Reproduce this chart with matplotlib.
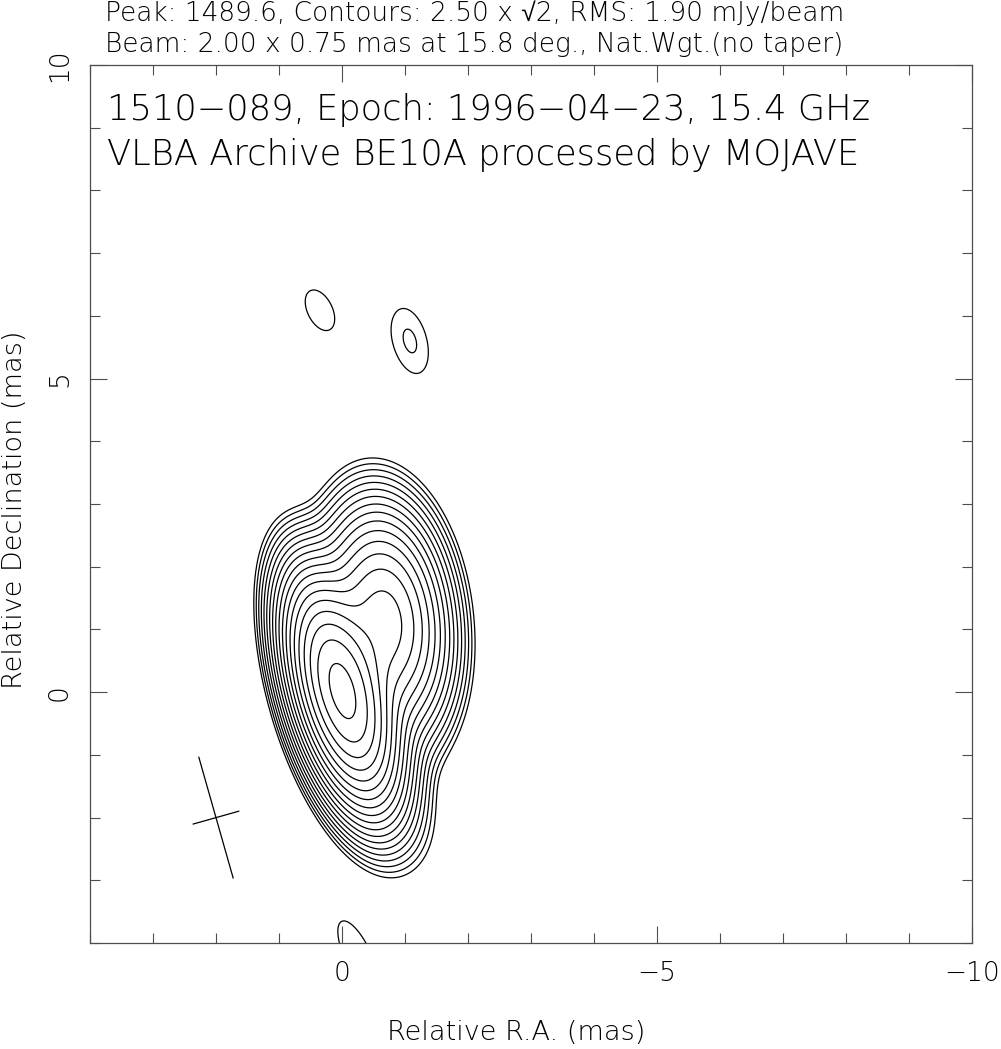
import numpy as np
import matplotlib.pyplot as plt

plt.rcParams['font.family'] = ['DejaVu Sans', 'Liberation Sans', 'Noto Sans']
plt.rcParams['font.weight'] = 'light'
plt.rcParams['axes.labelweight'] = 'light'

# -----------------------------
# Map parameters
# -----------------------------
peak = 1489.6
base = 2.50
rms = 1.90

beam_maj = 2.00
beam_min = 0.75
beam_pa = 15.8
beam_pos = (2.0, -2.0)

# image-plane gaussian components (already convolved)
comp_x = [0.0, -0.68, -0.9, 0.35, -1.08, -0.25]
comp_y = [0.0, 1.12, -1.8, 6.09, 5.6, -4.2]
comp_peak = [1440.0, 380.0, 4.0, 2.9, 3.72, 3.7]
comp_maj = [1.98, 1.95, 1.6, 1.5, 1.4, 1.6]
comp_min = [0.78, 1.05, 0.9, 0.85, 0.7, 0.55]
comp_pa = [15.8, 6.0, 15.0, 26.0, 15.0, 25.0]


def gauss2d(X, Y, x0, y0, amp, fmaj, fmin, pa):
    sx = fmin / 2.3548
    sy = fmaj / 2.3548
    t = np.deg2rad(pa)
    dx = X - x0
    dy = Y - y0
    # major axis along pa (north through east)
    u = dx * np.cos(t) - dy * np.sin(t)
    v = dx * np.sin(t) + dy * np.cos(t)
    return amp * np.exp(-0.5 * ((u / sx) ** 2 + (v / sy) ** 2))


xs = np.linspace(4.5, -10.5, 751)
ys = np.linspace(-4.6, 10.5, 756)
X, Y = np.meshgrid(xs, ys)

img = np.zeros_like(X)
for i in range(len(comp_x)):
    img += gauss2d(X, Y, comp_x[i], comp_y[i], comp_peak[i],
                   comp_maj[i], comp_min[i], comp_pa[i])

levels = base * np.sqrt(2) ** np.arange(0, 19)

# -----------------------------
# Plot
# -----------------------------
fig = plt.figure(figsize=(10.01, 10.49), dpi=100)
ax = fig.add_axes([0.0899, 0.101, 0.8811, 0.837])

ax.contour(X, Y, img, levels=levels, colors="k", linewidths=0.9)

# beam cross
t = np.deg2rad(beam_pa)
bx, by = beam_pos
ax.plot([bx + 0.5 * beam_maj * np.sin(t), bx - 0.5 * beam_maj * np.sin(t)],
        [by + 0.5 * beam_maj * np.cos(t), by - 0.5 * beam_maj * np.cos(t)],
        color="k", lw=0.9)
ax.plot([bx - 0.5 * beam_min * np.cos(t), bx + 0.5 * beam_min * np.cos(t)],
        [by + 0.5 * beam_min * np.sin(t), by - 0.5 * beam_min * np.sin(t)],
        color="k", lw=0.9)

ax.set_xlim(4, -10)
ax.set_ylim(-4, 10)
ax.set_aspect("auto")

ax.set_xticks([0, -5, -10])
ax.set_xticklabels(["0", "\u22125", "\u221210"])
ax.set_xticks(np.arange(4, -11, -1), minor=True)
ax.set_yticks([0, 5, 10])
ax.set_yticks(np.arange(-4, 11, 1), minor=True)
ax.tick_params(which="both", direction="in", top=True, right=True,
               labelsize=19, pad=13, width=0.8, color="0.3")
ax.tick_params(which="major", length=12)
ax.tick_params(which="minor", length=7)
for lab in ax.get_yticklabels():
    lab.set_rotation(90)
    lab.set_va("center")
for sp in ax.spines.values():
    sp.set_linewidth(0.9)
    sp.set_color("0.3")

ax.set_xlabel("Relative R.A. (mas)", fontsize=19.5)
ax.set_ylabel("Relative Declination (mas)", fontsize=19.5)
ax.xaxis.set_label_coords(0.483, -0.088)
ax.yaxis.set_label_coords(-0.071, 0.494)

fig.text(0.105, 0.980, "Peak: %.1f, Contours: %.2f x \u221a2, RMS: %.2f mJy/beam"
         % (peak, base, rms), fontsize=19, va="baseline", ha="left")
fig.text(0.105, 0.9504, "Beam: %.2f x %.2f mas at %.1f deg., Nat.Wgt.(no taper)"
         % (beam_maj, beam_min, beam_pa), fontsize=19, va="baseline", ha="left")

ax.text(0.019, 0.9374, "1510\u2212089, Epoch: 1996\u221204\u221223, 15.4 GHz",
        transform=ax.transAxes, fontsize=25.4, va="baseline", ha="left")
ax.text(0.019, 0.886, "VLBA Archive BE10A processed by MOJAVE",
        transform=ax.transAxes, fontsize=25.4, va="baseline", ha="left")

fig.savefig("out.png", dpi=100)
